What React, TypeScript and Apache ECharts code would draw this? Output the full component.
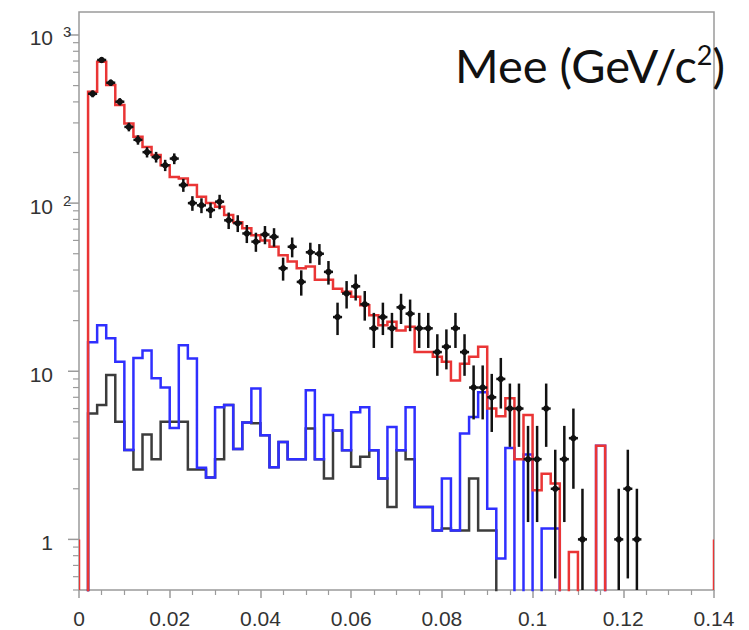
import React, { useEffect, useRef } from 'react';
import * as echarts from 'echarts';

// ---- binning / axes ----
const BIN_WIDTH = 0.002;
const X_MIN = 0;
const X_MAX = 0.14;
const X_INTERVAL = 0.02;
const Y_MIN = 0.5;
const Y_MAX = 1370;
const FLOOR = 0.01; // stand-in for empty bins on the log axis

// ---- bin contents (bin i covers [i*0.002, (i+1)*0.002]) ----
const RED_MC = [
  0, 460, 693, 504, 383, 298, 248, 216, 193, 168,
  143, 140, 128, 109, 100, 95, 85, 77, 71, 64.5,
  60, 55, 49, 45, 41, 42, 35, 35, 31, 29.7,
  27.7, 24.7, 21.5, 18.8, 19.7, 17.5, 18.4, 13, 13, 12.2,
  11.4, 8.8, 11.1, 12.2, 14, 6.0, 5.4, 6.9, 3.0, 5.5,
  1.96, 2.46, 2.15, 0, 0.84, 0, 0, 3.6,
];

const BLUE_MC = [
  0, 14.9, 18.8, 15.7, 11.4, 3.4, 12, 13.3, 9.1, 8.0,
  4.6, 14.3, 11.9, 2.67, 2.33, 6.1, 6.3, 3.45, 4.95, 7.9,
  4.16, 2.69, 3.8, 3.0, 3.0, 7.7, 3.0, 5.5, 4.45, 3.39,
  5.7, 6.1, 3.39, 2.3, 4.66, 3.39, 6.1, 1.56, 1.56, 1.13,
  2.3, 1.13, 4.26, 5.35, 7.5, 1.52, 0.77, 3.5, 0, 3.2,
  0, 1.16, 1.16, 0, 0, 0, 0, 3.6,
];

const GRAY_MC = [
  0, 5.6, 6.3, 9.5, 5.0, 3.4, 2.6, 4.2, 3.0, 5.0,
  5.0, 5.0, 2.6, 2.6, 2.33, 3.0, 6.3, 3.45, 4.95, 4.9,
  4.16, 2.69, 3.8, 3.0, 3.0, 4.56, 3.0, 2.3, 4.45, 3.39,
  2.7, 3.1, 3.39, 2.3, 1.56, 3.39, 3.0, 1.56, 1.56, 1.13,
  1.16, 1.13, 1.13, 2.3, 1.13, 1.13,
];

const DATA_COUNTS = [
  0, 447, 710, 520, 401, 284, 238, 201, 188, 168,
  184, 128, 100, 97, 91, 102, 79, 76, 66, 59,
  65, 63, 41, 55, 34, 51, 50, 39, 21, 29,
  32, 25, 18, 21, 18, 24, 22, 18, 18, 13,
  14, 18, 13, 8, 8, 7, 9, 6, 6, 3,
  3, 6, 2, 3, 4, 1, 0, 0, 0, 1,
  2, 1,
];

// red frame-edge strokes (x position, top value)
const RED_EDGE_X = [0, 0.14];
const RED_EDGE_Y = [1, 1];

// ---- tick labels ----
const Y_TICK_VALUES = [1, 10, 100, 1000];
const Y_TICK_BASES = ['1', '10', '10', '10'];
const Y_TICK_EXPONENTS = ['', '', '2', '3'];
const Y_MINOR_DECADES = [0.1, 1, 10, 100];
const Y_MINOR_MULTIPLIERS = [2, 3, 4, 5, 6, 7, 8, 9];

const COLORS = {
  red: '#ea3535',
  blue: '#2f2fff',
  gray: '#3c3c3c',
  data: '#111111',
  frame: '#9b9b9b',
  text: '#333333',
};

function histPoints(vals: number[]) {
  const pts: number[][] = [[0, FLOOR]];
  vals.forEach((v, i) => pts.push([i * BIN_WIDTH, v > 0 ? v : FLOOR]));
  pts.push([vals.length * BIN_WIDTH, FLOOR]);
  return pts;
}

function histSeries(name: string, vals: number[], color: string, z: number) {
  return {
    name,
    type: 'line',
    step: 'end',
    data: histPoints(vals),
    showSymbol: false,
    symbol: 'none',
    clip: true,
    z,
    lineStyle: { color, width: 2.5, join: 'miter' },
    silent: true,
  };
}

export default function App() {
  const ref = useRef<HTMLDivElement>(null);

  useEffect(() => {
    if (!ref.current) return;
    const chart = echarts.init(ref.current, undefined, { renderer: 'svg' });

    const dataPts = DATA_COUNTS.map((n, i) => [(i + 0.5) * BIN_WIDTH, n, Math.sqrt(n)]).filter(
      (d) => d[1] > 0
    );

    const minorTicks: number[][] = [];
    Y_MINOR_DECADES.forEach((d) =>
      Y_MINOR_MULTIPLIERS.forEach((m) => {
        const v = d * m;
        if (v >= Y_MIN && v <= Y_MAX) minorTicks.push([X_MIN, v]);
      })
    );

    const option: any = {
      animation: false,
      backgroundColor: '#ffffff',
      grid: {
        left: 79,
        right: 35,
        top: 12,
        bottom: 40,
        show: true,
        borderColor: COLORS.frame,
        borderWidth: 1.5,
        containLabel: false,
      },
      xAxis: {
        type: 'value',
        min: X_MIN,
        max: X_MAX,
        interval: X_INTERVAL,
        axisLine: { show: false },
        splitLine: { show: false },
        axisTick: { show: true, length: 8, lineStyle: { color: COLORS.frame, width: 1.5 } },
        minorTick: { show: true, splitNumber: 4, length: 5, lineStyle: { color: COLORS.frame, width: 1.2 } },
        axisLabel: {
          fontSize: 21,
          color: COLORS.text,
          fontFamily: 'Liberation Sans',
          margin: 18,
          formatter: (v: number) => String(+v.toFixed(2)),
        },
      },
      yAxis: {
        type: 'log',
        logBase: 10,
        min: Y_MIN,
        max: Y_MAX,
        axisLine: { show: false },
        axisTick: { show: false },
        axisLabel: { show: false },
        splitLine: { show: false },
      },
      graphic: [
        {
          type: 'text',
          left: 455,
          top: 41,
          style: {
            text: '{a|Mee (GeV/c}{s|2}{a|)}',
            rich: {
              a: { fontSize: 47, fontFamily: 'Lato', fill: '#111111' },
              s: { fontSize: 27, fontFamily: 'Lato', fill: '#111111', verticalAlign: 'top' },
            },
          },
        },
      ],
      series: [
        histSeries('gray', GRAY_MC, COLORS.gray, 2),
        histSeries('blue', BLUE_MC, COLORS.blue, 3),
        histSeries('red', RED_MC, COLORS.red, 4),
        {
          name: 'redEdges',
          type: 'custom',
          clip: true,
          z: 4,
          silent: true,
          data: RED_EDGE_X.map((x, i) => [x, RED_EDGE_Y[i]]),
          renderItem: (params: any, api: any) => {
            const top = api.coord([api.value(0), api.value(1)]);
            const bot = api.coord([api.value(0), Y_MIN]);
            return {
              type: 'line',
              shape: { x1: top[0], y1: top[1], x2: bot[0], y2: bot[1] },
              style: { stroke: COLORS.red, lineWidth: 2.5 },
            };
          },
        },
        {
          name: 'data',
          type: 'custom',
          clip: true,
          z: 6,
          silent: true,
          data: dataPts,
          renderItem: (params: any, api: any) => {
            const x = api.value(0);
            const y = api.value(1);
            const e = api.value(2);
            const c = api.coord([x, y]);
            const top = api.coord([x, y + e]);
            const bot = api.coord([x, Math.max(y - e, FLOOR)]);
            const l = api.coord([x - BIN_WIDTH / 2, y]);
            const r = api.coord([x + BIN_WIDTH / 2, y]);
            const st = { stroke: COLORS.data, lineWidth: 2.5 };
            return {
              type: 'group',
              children: [
                { type: 'line', shape: { x1: c[0], y1: top[1], x2: c[0], y2: bot[1] }, style: st },
                { type: 'line', shape: { x1: l[0], y1: c[1], x2: r[0], y2: c[1] }, style: st },
                { type: 'circle', shape: { cx: c[0], cy: c[1], r: 3.2 }, style: { fill: COLORS.data } },
              ],
            };
          },
        },
        {
          name: 'yMinorTicks',
          type: 'custom',
          clip: false,
          silent: true,
          z: 7,
          data: minorTicks,
          renderItem: (params: any, api: any) => {
            const p = api.coord([api.value(0), api.value(1)]);
            return {
              type: 'line',
              shape: { x1: p[0] - 6, y1: p[1], x2: p[0], y2: p[1] },
              style: { stroke: COLORS.frame, lineWidth: 1.2 },
            };
          },
        },
        {
          name: 'yMajorTicks',
          type: 'custom',
          clip: false,
          silent: true,
          z: 7,
          data: Y_TICK_VALUES.map((v) => [X_MIN, v]),
          renderItem: (params: any, api: any) => {
            const p = api.coord([api.value(0), api.value(1)]);
            const idx = params.dataIndex;
            const children: any[] = [
              {
                type: 'line',
                shape: { x1: p[0] - 11, y1: p[1], x2: p[0], y2: p[1] },
                style: { stroke: COLORS.frame, lineWidth: 1.5 },
              },
              {
                type: 'text',
                x: p[0] - 26,
                y: p[1] + 3,
                style: {
                  text: Y_TICK_BASES[idx],
                  textAlign: 'right',
                  textVerticalAlign: 'middle',
                  fontSize: 21,
                  fontFamily: 'Liberation Sans',
                  fill: COLORS.text,
                },
              },
            ];
            if (Y_TICK_EXPONENTS[idx]) {
              children.push({
                type: 'text',
                x: p[0] - 16,
                y: p[1] - 3,
                style: {
                  text: Y_TICK_EXPONENTS[idx],
                  textAlign: 'left',
                  textVerticalAlign: 'middle',
                  fontSize: 15,
                  fontFamily: 'Liberation Sans',
                  fill: COLORS.text,
                },
              });
            }
            return { type: 'group', children };
          },
        },
      ],
    };

    chart.setOption(option);
    return () => chart.dispose();
  }, []);

  return (
    <div
      ref={ref}
      style={{ position: 'absolute', left: 0, top: 0, width: 749, height: 630, background: '#fff' }}
    />
  );
}
